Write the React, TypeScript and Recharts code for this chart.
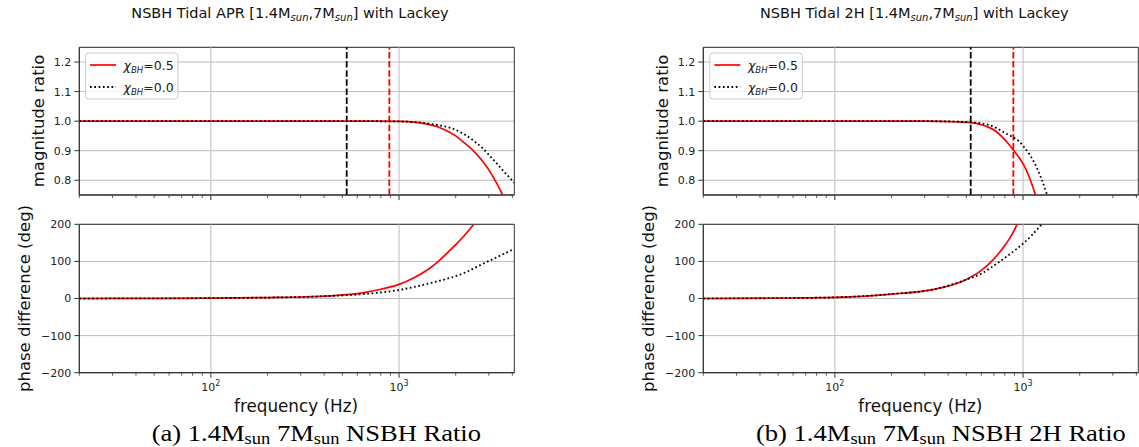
import React from 'react';
import {
  LineChart,
  Line,
  XAxis,
  YAxis,
  CartesianGrid,
  ReferenceLine,
  ReferenceArea,
} from 'recharts';

const FONT = '"DejaVu Sans", sans-serif';
const SERIF = '"Liberation Serif", "Times New Roman", serif';

// ---------- data (frequency in Hz) ----------
// Left panel: APR
const aprMagSpin05Freq = [20, 100, 300, 600, 1000, 1200, 1400, 1600, 1800, 2000, 2200, 2500, 2800, 3000, 3300, 3550];
const aprMagSpin05Val = [1.0, 1.0, 1.0, 1.0, 0.999, 0.997, 0.991, 0.981, 0.967, 0.95, 0.929, 0.898, 0.862, 0.835, 0.79, 0.75];
const aprMagSpin00Freq = [20, 100, 300, 600, 1000, 1300, 1600, 1900, 2200, 2500, 2800, 3000, 3300, 3600, 4096];
const aprMagSpin00Val = [1.0, 1.0, 1.0, 1.0, 0.999, 0.995, 0.987, 0.976, 0.957, 0.933, 0.906, 0.886, 0.857, 0.83, 0.792];
const aprPhaseSpin05Freq = [20, 50, 100, 200, 300, 430, 650, 800, 1000, 1200, 1450, 1600, 1770, 2000, 2200, 2495];
const aprPhaseSpin05Val = [0, 0.3, 1, 2.5, 4, 7, 16, 25, 38, 56, 81, 98, 119, 145, 167, 200];
const aprPhaseSpin00Freq = [20, 50, 100, 200, 400, 650, 1000, 1450, 2200, 2830, 3400, 4096];
const aprPhaseSpin00Val = [0, 0.3, 1, 2.5, 6, 12, 23, 41, 68, 95, 114, 134];

// Right panel: 2H
const h2MagSpin05Freq = [20, 100, 300, 437, 527, 600, 658, 720, 773, 830, 889, 950, 1008, 1080, 1164];
const h2MagSpin05Val = [1.0, 1.0, 1.0, 0.998, 0.995, 0.988, 0.979, 0.965, 0.947, 0.926, 0.902, 0.878, 0.852, 0.81, 0.75];
const h2MagSpin00Freq = [20, 100, 300, 400, 527, 658, 730, 806, 889, 950, 1008, 1080, 1164, 1250, 1343];
const h2MagSpin00Val = [1.0, 1.0, 1.0, 0.999, 0.996, 0.987, 0.975, 0.959, 0.945, 0.932, 0.914, 0.888, 0.852, 0.806, 0.75];
const h2PhaseSpin05Freq = [20, 50, 100, 200, 330, 494, 605, 680, 743, 800, 839, 890, 929];
const h2PhaseSpin05Val = [0, 1, 3, 12, 24, 50, 77, 100, 122, 143, 158, 180, 200];
const h2PhaseSpin00Freq = [20, 50, 100, 200, 330, 494, 605, 743, 911, 1000, 1116, 1256];
const h2PhaseSpin00Val = [0, 1, 3, 12, 24, 50, 68, 98, 131, 148, 171, 200];

// vertical markers (Hz): black = chi 0.0, red = chi 0.5
const markerFreqs = [527, 888];
const markerColors = ['#000000', '#ff0000'];

// axes
const freqDomain = [20, 4096];
const freqTicks = [20, 30, 40, 50, 60, 70, 80, 90, 100, 200, 300, 400, 500, 600, 700, 800, 900, 1000, 2000, 3000, 4000];
const freqMajor = [100, 1000];
const magDomain = [0.75, 1.25];
const magTicks = [0.8, 0.9, 1.0, 1.1, 1.2];
const phaseDomain = [-200, 200];
const phaseTicks = [-200, -100, 0, 100, 200];

// text
const panelTitles = ['NSBH Tidal APR', 'NSBH Tidal 2H'];
const captionTags = ['(a)', '(b)'];
const captionNames = ['NSBH Ratio', 'NSBH 2H Ratio'];
const spinLabels = ['0.5', '0.0'];

type Pt = { f: number; v: number };
const pts = (f: number[], v: number[]): Pt[] => f.map((x, i) => ({ f: x, v: v[i] }));

const panels = [
  {
    offset: 0,
    captionX: 151.7,
    magRed: pts(aprMagSpin05Freq, aprMagSpin05Val),
    magBlack: pts(aprMagSpin00Freq, aprMagSpin00Val),
    phRed: pts(aprPhaseSpin05Freq, aprPhaseSpin05Val),
    phBlack: pts(aprPhaseSpin00Freq, aprPhaseSpin00Val),
  },
  {
    offset: 624.3,
    captionX: 756,
    magRed: pts(h2MagSpin05Freq, h2MagSpin05Val),
    magBlack: pts(h2MagSpin00Freq, h2MagSpin00Val),
    phRed: pts(h2PhaseSpin05Freq, h2PhaseSpin05Val),
    phBlack: pts(h2PhaseSpin00Freq, h2PhaseSpin00Val),
  },
];

const SPINE = '#333333';
const GRID = '#bdbdbd';

function XTick(props: any) {
  const { x, y, payload, showLabel } = props;
  const v = payload.value as number;
  const major = freqMajor.includes(v);
  const len = major ? 5 : 3;
  return (
    <g>
      <line x1={x} x2={x} y1={y} y2={y + len} stroke={SPINE} strokeWidth={major ? 1 : 0.8} />
      {showLabel && major && (
        <text x={x} y={y + 17.8} textAnchor="middle" fontSize={11} fill="#222" fontFamily={FONT}>
          10
          <tspan dy={-5} fontSize={8}>
            {Math.round(Math.log10(v))}
          </tspan>
        </text>
      )}
    </g>
  );
}

const fmtMag = (v: number) => v.toFixed(1);
const fmtPhase = (v: number) => (v < 0 ? `\u2212${Math.abs(v)}` : `${v}`);

const CHART_W = 516;

function Panel({ p }: { p: (typeof panels)[number] }) {
  const xAxis = (showLabel: boolean, height: number) => (
    <XAxis
      dataKey="f"
      type="number"
      scale="log"
      domain={freqDomain}
      allowDataOverflow
      ticks={freqTicks}
      interval={0}
      height={height}
      tickSize={0}
      tickMargin={0}
      tickLine={false}
      axisLine={{ stroke: SPINE }}
      tick={(tp: any) => <XTick {...tp} showLabel={showLabel} />}
    />
  );
  return (
    <>
      <div style={{ position: 'absolute', left: p.offset, top: 0 }}>
        <LineChart
          width={CHART_W}
          height={215}
          margin={{ top: 47.3, right: CHART_W - 514.3, bottom: 0, left: 0 }}
          style={{ fontFamily: FONT }}
        >
          <CartesianGrid vertical={false} stroke={GRID} strokeWidth={1} />
          {freqMajor.map((f) => (
            <ReferenceLine key={`g${f}`} x={f} stroke={GRID} strokeWidth={1} />
          ))}
          {xAxis(false, 20)}
          <YAxis
            type="number"
            width={79.3}
            domain={magDomain}
            allowDataOverflow
            ticks={magTicks}
            interval={0}
            tickFormatter={fmtMag}
            tickSize={5}
            tickMargin={3}
            axisLine={{ stroke: SPINE }}
            tickLine={{ stroke: SPINE }}
            tick={{ fontSize: 11, fill: '#222', fontFamily: FONT }}
          />
          {markerFreqs.map((f, i) => (
            <ReferenceLine key={`m${f}`} x={f} stroke={markerColors[i]} strokeWidth={1.8} strokeDasharray="6.5 2.6" />
          ))}
          <Line
            data={p.magRed}
            dataKey="v"
            type="monotone"
            stroke="#ff0000"
            strokeWidth={1.7}
            dot={false}
            activeDot={false}
            isAnimationActive={false}
          />
          <Line
            data={p.magBlack}
            dataKey="v"
            type="monotone"
            stroke="#000000"
            strokeWidth={1.8}
            strokeDasharray="1.7 2.6"
            dot={false}
            activeDot={false}
            isAnimationActive={false}
          />
          <ReferenceArea
            x1={freqDomain[0]}
            x2={freqDomain[1]}
            y1={magDomain[0]}
            y2={magDomain[1]}
            fill="none"
            fillOpacity={0}
            stroke={SPINE}
            strokeWidth={1}
            ifOverflow="visible"
          />
        </LineChart>
      </div>
      <div style={{ position: 'absolute', left: p.offset, top: 200 }}>
        <LineChart
          width={CHART_W}
          height={247}
          margin={{ top: 24.3, right: CHART_W - 514.3, bottom: 0, left: 0 }}
          style={{ fontFamily: FONT }}
        >
          <CartesianGrid vertical={false} stroke={GRID} strokeWidth={1} />
          {freqMajor.map((f) => (
            <ReferenceLine key={`g${f}`} x={f} stroke={GRID} strokeWidth={1} />
          ))}
          {xAxis(true, 74.3)}
          <YAxis
            type="number"
            width={79.3}
            domain={phaseDomain}
            allowDataOverflow
            ticks={phaseTicks}
            interval={0}
            tickFormatter={fmtPhase}
            tickSize={5}
            tickMargin={3}
            axisLine={{ stroke: SPINE }}
            tickLine={{ stroke: SPINE }}
            tick={{ fontSize: 11, fill: '#222', fontFamily: FONT }}
          />
          <Line
            data={p.phRed}
            dataKey="v"
            type="monotone"
            stroke="#ff0000"
            strokeWidth={1.7}
            dot={false}
            activeDot={false}
            isAnimationActive={false}
          />
          <Line
            data={p.phBlack}
            dataKey="v"
            type="monotone"
            stroke="#000000"
            strokeWidth={1.8}
            strokeDasharray="1.7 2.6"
            dot={false}
            activeDot={false}
            isAnimationActive={false}
          />
          <ReferenceArea
            x1={freqDomain[0]}
            x2={freqDomain[1]}
            y1={phaseDomain[0]}
            y2={phaseDomain[1]}
            fill="none"
            fillOpacity={0}
            stroke={SPINE}
            strokeWidth={1}
            ifOverflow="visible"
          />
        </LineChart>
      </div>
    </>
  );
}

function ChiLabel({ x, y, value }: { x: number; y: number; value: string }) {
  return (
    <text x={x} y={y} fontSize={12.5} fill="#222" fontFamily={FONT}>
      <tspan fontStyle="italic">χ</tspan>
      <tspan fontStyle="italic" fontSize={8.5} dy={3}>
        BH
      </tspan>
      <tspan dy={-3}>={value}</tspan>
    </text>
  );
}

function Overlay() {
  return (
    <svg
      width={1139}
      height={447}
      style={{ position: 'absolute', left: 0, top: 0, pointerEvents: 'none' }}
    >
      {panels.map((p, i) => {
        const o = p.offset;
        return (
          <g key={i}>
            <text x={290 + o} y={18} textAnchor="middle" fontSize={14.5} fill="#111" fontFamily={FONT}>
              {`${panelTitles[i]} [1.4M`}
              <tspan fontSize={10} fontStyle="italic" dy={3}>
                sun
              </tspan>
              <tspan dy={-3}>,7M</tspan>
              <tspan fontSize={10} fontStyle="italic" dy={3}>
                sun
              </tspan>
              <tspan dy={-3}>] with Lackey</tspan>
            </text>
            <text
              x={0}
              y={0}
              transform={`translate(${38.5 + o},121) rotate(-90)`}
              textAnchor="middle"
              dominantBaseline="central"
              fontSize={16.5}
              fill="#111"
              fontFamily={FONT}
            >
              magnitude ratio
            </text>
            <text
              x={0}
              y={0}
              transform={`translate(${24.6 + o},298.5) rotate(-90)`}
              textAnchor="middle"
              dominantBaseline="central"
              fontSize={16.5}
              fill="#111"
              fontFamily={FONT}
            >
              phase difference (deg)
            </text>
            <text x={296 + o} y={411.5} textAnchor="middle" fontSize={16.8} fill="#111" fontFamily={FONT}>
              frequency (Hz)
            </text>
            {/* legend */}
            <rect x={85.5 + o} y={53} width={92.5} height={46} rx={3} fill="#ffffff" fillOpacity={0.8} stroke="#cccccc" />
            <line x1={90 + o} x2={116 + o} y1={65} y2={65} stroke="#ff0000" strokeWidth={1.7} />
            <ChiLabel x={123.6 + o} y={69.5} value={spinLabels[0]} />
            <line x1={90 + o} x2={116 + o} y1={87} y2={87} stroke="#000" strokeWidth={1.8} strokeDasharray="1.7 2.6" />
            <ChiLabel x={123.6 + o} y={91.5} value={spinLabels[1]} />
            {/* caption */}
            <text
              x={0}
              y={0}
              transform={`translate(${p.captionX},441) scale(1.155,1)`}
              fontSize={23}
              fill="#000"
              fontFamily={SERIF}
              style={{ whiteSpace: 'pre' }}
            >
              {`${captionTags[i]} 1.4M`}
              <tspan fontSize={16} dy={2.5}>
                sun
              </tspan>
              <tspan dy={-2.5}>{' 7M'}</tspan>
              <tspan fontSize={16} dy={2.5}>
                sun
              </tspan>
              <tspan dy={-2.5}>{` ${captionNames[i]}`}</tspan>
            </text>
          </g>
        );
      })}
    </svg>
  );
}

export default function App() {
  return (
    <div
      style={{
        position: 'absolute',
        left: 0,
        top: 0,
        width: 1139,
        height: 447,
        overflow: 'hidden',
        background: '#ffffff',
      }}
    >
      {panels.map((p, i) => (
        <Panel key={i} p={p} />
      ))}
      <Overlay />
    </div>
  );
}
